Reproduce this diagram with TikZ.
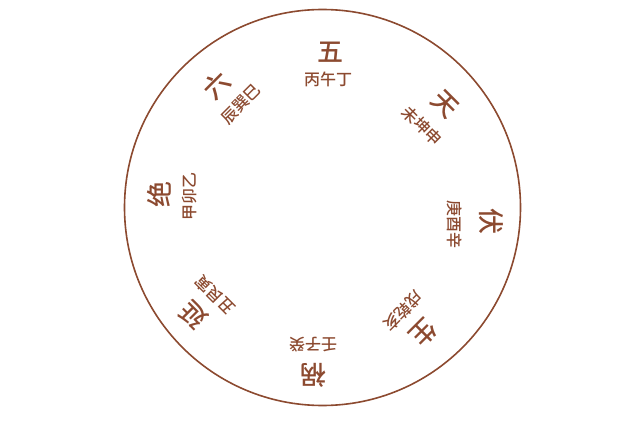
\documentclass[tikz,border=0pt]{standalone}
\usepackage{fontspec}
\newfontfamily\cjk{Noto Sans CJK SC Medium}
\newfontfamily\cjkb{Noto Sans CJK SC Medium}
\definecolor{brn}{RGB}{140,74,48}
\begin{document}
\begin{tikzpicture}[x=1pt,y=-1pt,
  big/.style={text=brn,font=\cjkb\fontsize{26}{26}\selectfont,inner sep=0pt},
  small/.style={text=brn,font=\cjk\fontsize{16}{16}\selectfont,inner sep=0pt}]
\useasboundingbox (0,0) rectangle (640,422);
\node[circle,draw=brn,line width=1.6pt,minimum size=396pt,inner sep=0pt] (ring) at (322.5,207.5) {};
\node[big] (wu) at (330,52) {五};
\node[small] (wus) at (328,79) {丙午丁};
\node[big,rotate=-45] (tian) at (445,104) {天};
\node[small,rotate=-45] (tians) at (422,126) {未坤申};
\node[big,rotate=-90] (fu) at (491,222) {伏};
\node[small,rotate=-90] (fus) at (455,225) {庚酉辛};
\node[big,rotate=-135] (sheng) at (424,333) {生};
\node[small,rotate=-135] (shengs) at (403,311) {戌乾亥};
\node[big,rotate=180] (huo) at (313,375) {祸};
\node[small,rotate=180] (huos) at (313,345) {壬子癸};
\node[big,rotate=135] (yan) at (193,315) {延};
\node[small,rotate=135] (yans) at (215,295) {丑艮寅};
\node[big,rotate=90] (jue) at (159,195) {绝};
\node[small,rotate=90] (jues) at (190,197) {甲卯乙};
\node[big,rotate=45] (liu) at (217,85) {六};
\node[small,rotate=45] (lius) at (241,104) {辰巽巳};
\end{tikzpicture}
\end{document}
